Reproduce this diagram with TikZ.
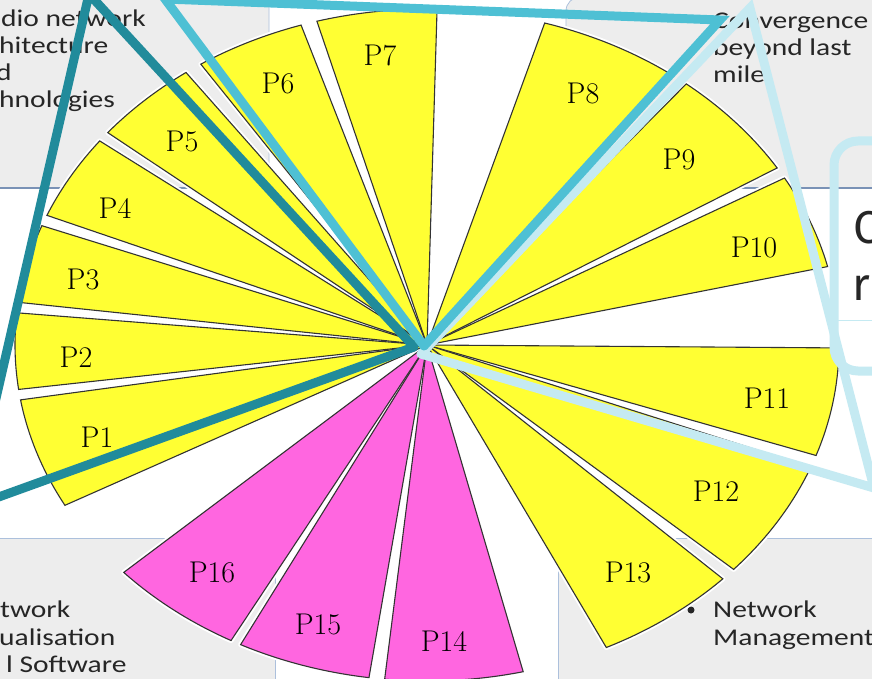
\documentclass[tikz,border=0pt]{standalone}
\usepackage{fontspec}
\newfontfamily\slidefont[FakeStretch=1.23]{Carlito}
\newfontfamily\notefont{Fira Sans}
\usetikzlibrary{positioning}
\usetikzlibrary{calc}

\definecolor{boxgray}{RGB}{237,237,237}
\definecolor{boxedge}{RGB}{172,192,220}
\definecolor{boxbase}{RGB}{122,146,182}
\definecolor{pieyellow}{RGB}{255,255,51}
\definecolor{piepink}{RGB}{255,102,224}
\definecolor{tealdark}{RGB}{33,139,155}
\definecolor{tealmid}{RGB}{78,192,212}
\definecolor{teallight}{RGB}{197,234,242}

\def\wedgelist{151.5/170.6/pieyellow/1/97/437, 172.4/185.5/pieyellow/2/76/357,
  187.3/200.8/pieyellow/3/83/279, 202.7/217.4/pieyellow/4/115/208,
  219.2/234.2/pieyellow/5/182/141, 236.7/252.2/pieyellow/6/278/83,
  254.5/271.4/pieyellow/7/380/55, 286.6/306.6/pieyellow/8/583/93,
  309/328.2/pieyellow/9/679/159, 330.2/346.5/pieyellow/10/754/247,
  0.5/19.2/pieyellow/11/767/398, 21.3/41.9/pieyellow/12/716/491,
  44.1/64.2/pieyellow/13/628/572, 76.5/95.9/piepink/14/444/641,
  98.1/116.9/piepink/15/318/624, 118.4/137.4/piepink/16/212/572}

\begin{document}
\begin{tikzpicture}
  [x=1pt,y=-1pt,
  slidebox/.style={fill=boxgray,draw=boxedge,line width=0.8pt},
  boxline/.style={draw=boxbase,line width=2pt},
  slidetext/.style={anchor=base west,inner sep=0pt,text=black!85,font=\slidefont\fontsize{24}{29}\selectfont},
  notetext/.style={anchor=base west,inner sep=0pt,text=black!85,font=\notefont\fontsize{46}{50}\selectfont},
  wedge/.style={draw=black!80,line width=1.1pt,line join=miter},
  halo/.style={draw=white,line width=5pt,line join=round},
  plabel/.style={inner sep=0pt,font=\fontsize{30}{30}\selectfont},
  tealline/.style={line width=9pt,line cap=round,line join=miter}]
  \useasboundingbox (0,0) rectangle (872,679);
  \fill[white] (0,0) rectangle (872,679);

  % slide boxes behind the pie
  \draw[slidebox,rounded corners=14] (-20,-40) rectangle (269,188);
  \draw[slidebox,rounded corners=14] (566,-3) rectangle (900,188);
  \draw[boxline] (-20,188) -- (269,188);
  \draw[boxline] (566,188) -- (900,188);
  \draw[slidebox] (-20,538) rectangle (275,700);
  \draw[slidebox] (558,538) rectangle (900,700);

  \node[slidetext] (radio1) at (1,27) {dio network};
  \node[slidetext] (radio2) at (-1,54) {hitecture};
  \node[slidetext] (radio3) at (-4,81) {d};
  \node[slidetext] (radio4) at (-1,108) {hnologies};
  \node[slidetext] (conv1) at (713,29) {Convergence};
  \node[slidetext] (conv2) at (713,56) {beyond last};
  \node[slidetext] (conv3) at (713,83) {mile};
  \node[slidetext] (virt1) at (0,617) {twork};
  \node[slidetext] (virt2) at (-1,645) {ualisation};
  \node[slidetext] (virt3) at (6,672) {l Software};
  \fill[black!85] (691,610) circle (3.5);
  \node[slidetext] (mgmt1) at (713,617) {Network};
  \node[slidetext] (mgmt2) at (713,645) {Management};

  % the sixteen parts
  \coordinate (pc) at (427,345);
  \foreach \ta/\tb/\col/\num/\lx/\ly in \wedgelist
    \draw[halo] (pc) -- plot[domain=\ta:\tb,samples=30] ({427+412*cos(\x)},{345+336*sin(\x)}) -- cycle;
  \foreach \ta/\tb/\col/\num/\lx/\ly in \wedgelist
  {
    \filldraw[wedge,fill=\col] (pc) -- plot[domain=\ta:\tb,samples=30] ({427+412*cos(\x)},{345+336*sin(\x)}) -- cycle;
    \node[plabel] (p\num) at (\lx,\ly) {P\num};
  }

  \draw[teallight,line width=9pt,rounded corners=24] (900,141) -- (834,141) -- (834,371) -- (900,371);
  \draw[teallight,line width=1pt] (838,320) -- (872,320);
  \node[notetext] (note1) at (853,243) {C};
  \node[notetext] (note2) at (852,300) {r};

  \coordinate (dkhub) at (414,347);
  \coordinate (dktop) at (89,-6);
  \coordinate (dkleft) at (-29,507);
  \coordinate (lthub) at (421,354);
  \coordinate (lttop) at (750,8);
  \coordinate (ltright) at (874,488);
  \coordinate (mdhub) at (424,346);
  \coordinate (mdleft) at (165,-1);
  \coordinate (mdright) at (720,20);
  \draw[tealline,tealdark] (dkhub) -- (dktop) -- (dkleft) -- (dkhub);
  \draw[tealline,teallight] (lthub) -- (lttop) -- (ltright) -- (lthub);
  \draw[tealline,tealmid] (mdhub) -- (mdleft) -- (mdright) -- (mdhub);
\end{tikzpicture}
\end{document}
